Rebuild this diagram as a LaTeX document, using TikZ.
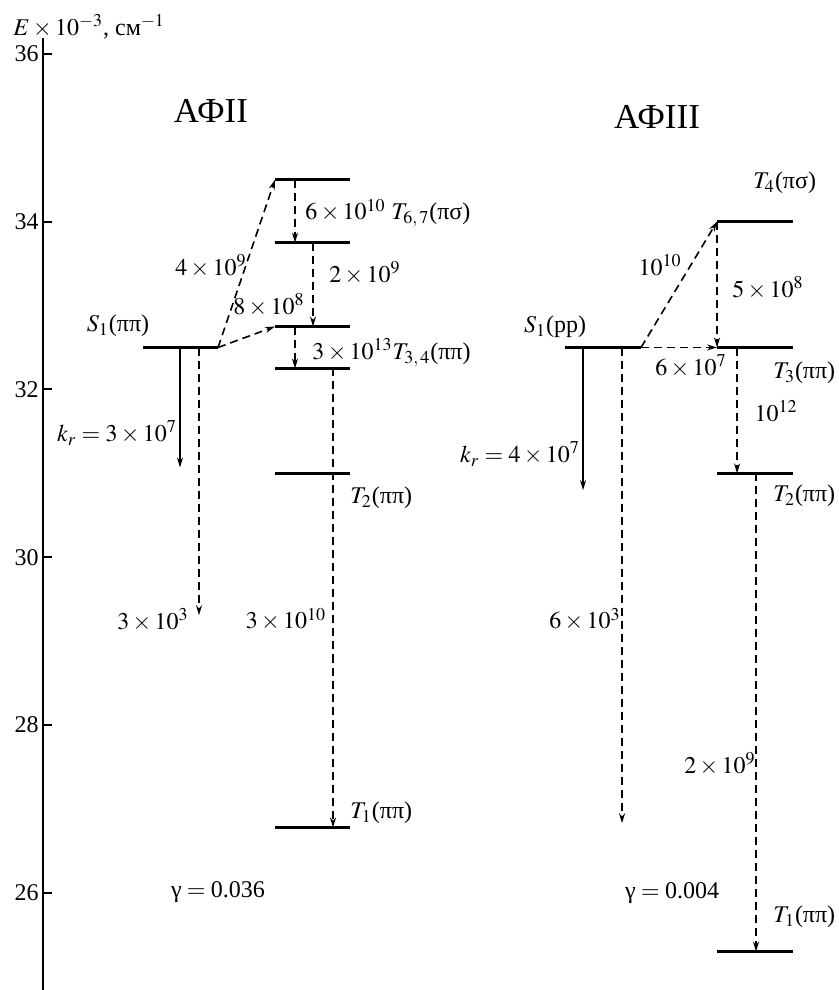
\documentclass[tikz,border=0pt,12pt]{standalone}
\usepackage{mathptmx}
\usepackage{fontspec}
\setmainfont{Liberation Serif}
\usetikzlibrary{arrows.meta, positioning, calc}

\begin{document}
\begin{tikzpicture}[x=0.5pt, y=41.95pt,
    level/.style={line width=1.5pt},
    axis/.style={line width=1pt},
    rate/.style={line width=0.8pt, -{Stealth[length=5pt,width=3pt]}},
    nrate/.style={rate, dash pattern=on 4pt off 2.5pt},
    lbl/.style={inner sep=0pt},
    ttl/.style={inner sep=0pt, font=\fontsize{17.5}{20}\selectfont}]
    \useasboundingbox (0,24.843) rectangle (838,36.642);

    % energy axis
    \draw[axis] (43,24.843) -- (43,36.19);
    \foreach \e in {26,28,...,36} {
        \draw[axis] (43,\e) -- (52,\e);
        \node[lbl, anchor=east] (tick\e) at (39,\e) {\e};
    }
    \node[lbl, anchor=base west] (ylab) at (13,36.22) {$E\times10^{-3}$, см$^{-1}$};

    % AFII
    \node[ttl] (titleA) at (211,35.32) {АФII};
    \draw[level] (143,32.5) coordinate (aS1) -- (218,32.5) coordinate (aS1r);
    \draw[level] (275,34.5) coordinate (aT7) -- (350,34.5);
    \draw[level] (275,33.75) coordinate (aTc) -- (350,33.75);
    \draw[level] (275,32.75) coordinate (aTb) -- (350,32.75);
    \draw[level] (275,32.25) coordinate (aT3) -- (350,32.25);
    \draw[level] (275,31) coordinate (aT2) -- (350,31);
    \draw[level] (275,26.78) coordinate (aT1) -- (350,26.78);

    \coordinate (krA) at (180,31.07);
    \coordinate (fA) at (199,29.31);
    \coordinate (xa1) at (295,30);
    \coordinate (xa2) at (313,30);
    \coordinate (xa3) at (333,30);
    \draw[rate] (krA |- aS1) -- (krA);
    \draw[nrate] (fA |- aS1) -- (fA);
    \draw[nrate] (aS1r) -- (aT7);
    \draw[nrate] (aS1r) -- (aTb);
    \draw[nrate] (xa1 |- aT7) -- (xa1 |- aTc);
    \draw[nrate] (xa2 |- aTc) -- (xa2 |- aTb);
    \draw[nrate] (xa1 |- aTb) -- (xa1 |- aT3);
    \draw[nrate] (xa3 |- aT3) -- (xa3 |- aT1);

    \node[lbl] (aS1lab) at (118,32.757) {$S_1$(ππ)};
    \node[lbl, anchor=west] (aT7lab) at (305,34.10) {$6\times10^{10}$ $T_{6,\,7}$(πσ)};
    \node[lbl] (k49) at (211,33.47) {$4\times10^{9}$};
    \node[lbl] (k29) at (365,33.39) {$2\times10^{9}$};
    \node[lbl] (k88) at (269,33.01) {$8\times10^{8}$};
    \node[lbl, anchor=west] (aT3lab) at (312,32.435) {$3\times10^{13}T_{3,\,4}$(ππ)};
    \node[lbl] (krAlab) at (117,31.48) {$k_r=3\times10^{7}$};
    \node[lbl, anchor=west] (aT2lab) at (350,30.71) {$T_2$(ππ)};
    \node[lbl] (k33) at (153,29.25) {$3\times10^{3}$};
    \node[lbl] (k310) at (286,29.26) {$3\times10^{10}$};
    \node[lbl, anchor=west] (aT1lab) at (350,26.95) {$T_1$(ππ)};
    \node[lbl] (gA) at (218,26.01) {γ${}={}$0.036};

    % AFIII
    \node[ttl] (titleB) at (657,35.25) {АФIII};
    \draw[level] (565,32.5) coordinate (bS1) -- (641,32.5) coordinate (bS1r);
    \draw[level] (717,34) coordinate (bT4) -- (793,34);
    \draw[level] (717,32.5) coordinate (bT3) -- (793,32.5);
    \draw[level] (717,31) coordinate (bT2) -- (793,31);
    \draw[level] (717,25.3) coordinate (bT1) -- (793,25.3);

    \coordinate (krB) at (583,30.8);
    \coordinate (fB) at (622,26.83);
    \coordinate (xb1) at (737,30);
    \coordinate (xb2) at (756,30);
    \draw[rate] (krB |- bS1) -- (krB);
    \draw[nrate] (fB |- bS1) -- (fB);
    \draw[nrate] (bS1r) -- (bT4);
    \draw[nrate] (bS1r) -- (bT3);
    \draw[nrate] (bT4) -- (bT3);
    \draw[nrate] (xb1 |- bT3) -- (xb1 |- bT2);
    \draw[nrate] (xb2 |- bT2) -- (xb2 |- bT1);

    \node[lbl] (bS1lab) at (555,32.745) {$S_1$(pp)};
    \node[lbl, anchor=west] (bT4lab) at (753,34.46) {$T_4$(πσ)};
    \node[lbl] (k1010) at (660,33.48) {$10^{10}$};
    \node[lbl] (k58) at (768,33.21) {$5\times10^{8}$};
    \node[lbl] (k67) at (691,32.28) {$6\times10^{7}$};
    \node[lbl, anchor=west] (bT3lab) at (773,32.20) {$T_3$(ππ)};
    \node[lbl] (k1012) at (776,31.74) {$10^{12}$};
    \node[lbl] (krBlab) at (520,31.23) {$k_r=4\times10^{7}$};
    \node[lbl, anchor=west] (bT2lab) at (773,30.73) {$T_2$(ππ)};
    \node[lbl] (k63) at (585,29.26) {$6\times10^{3}$};
    \node[lbl] (k29b) at (720,27.54) {$2\times10^{9}$};
    \node[lbl] (gB) at (672,26.0) {γ${}={}$0.004};
    \node[lbl, anchor=west] (bT1lab) at (773,25.71) {$T_1$(ππ)};
\end{tikzpicture}
\end{document}
